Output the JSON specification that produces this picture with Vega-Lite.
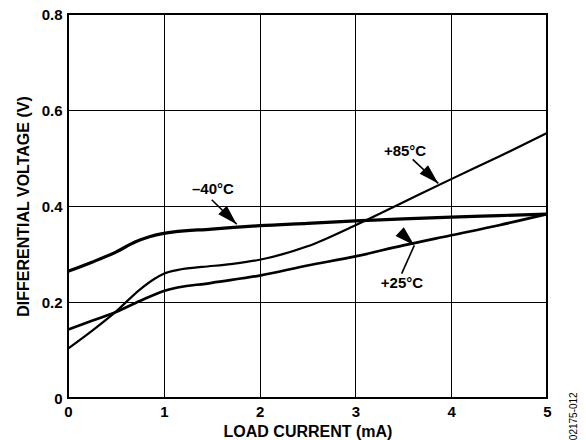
{
  "$schema": "https://vega.github.io/schema/vega-lite/v6.json",
  "width": 479,
  "height": 384,
  "autosize": "none",
  "padding": {"left": 68, "top": 14, "right": 39, "bottom": 42},
  "background": "white",
  "config": {
    "view": {"stroke": "black", "strokeWidth": 2},
    "font": "Liberation Sans",
    "axis": {
      "grid": true, "gridColor": "black", "gridOpacity": 1, "gridWidth": 1,
      "ticks": false, "domain": false, "labelFlush": false,
      "labelFont": "Liberation Sans", "labelFontWeight": "bold", "labelFontSize": 15, "labelColor": "black",
      "titleFont": "Liberation Sans", "titleFontWeight": "bold", "titleFontSize": 16, "titleColor": "black",
      "labelOverlap": false
    }
  },
  "datasets": {
    "curves": [
      {"series": "-40", "current": 0, "voltage": 0.264},
      {"series": "-40", "current": 0.25, "voltage": 0.283},
      {"series": "-40", "current": 0.5, "voltage": 0.304},
      {"series": "-40", "current": 0.7, "voltage": 0.325},
      {"series": "-40", "current": 0.85, "voltage": 0.336},
      {"series": "-40", "current": 1, "voltage": 0.343},
      {"series": "-40", "current": 1.5, "voltage": 0.352},
      {"series": "-40", "current": 2, "voltage": 0.359},
      {"series": "-40", "current": 2.5, "voltage": 0.364},
      {"series": "-40", "current": 3, "voltage": 0.369},
      {"series": "-40", "current": 3.5, "voltage": 0.373},
      {"series": "-40", "current": 4, "voltage": 0.377},
      {"series": "-40", "current": 4.5, "voltage": 0.380},
      {"series": "-40", "current": 5, "voltage": 0.383},
      {"series": "+25", "current": 0, "voltage": 0.1425},
      {"series": "+25", "current": 0.25, "voltage": 0.161},
      {"series": "+25", "current": 0.5, "voltage": 0.179},
      {"series": "+25", "current": 0.75, "voltage": 0.202},
      {"series": "+25", "current": 1, "voltage": 0.223},
      {"series": "+25", "current": 1.5, "voltage": 0.240},
      {"series": "+25", "current": 2, "voltage": 0.255},
      {"series": "+25", "current": 2.5, "voltage": 0.276},
      {"series": "+25", "current": 3, "voltage": 0.295},
      {"series": "+25", "current": 3.5, "voltage": 0.318},
      {"series": "+25", "current": 4, "voltage": 0.339},
      {"series": "+25", "current": 4.5, "voltage": 0.360},
      {"series": "+25", "current": 5, "voltage": 0.383},
      {"series": "+85", "current": 0, "voltage": 0.103},
      {"series": "+85", "current": 0.25, "voltage": 0.140},
      {"series": "+85", "current": 0.5, "voltage": 0.180},
      {"series": "+85", "current": 0.75, "voltage": 0.226},
      {"series": "+85", "current": 0.9, "voltage": 0.248},
      {"series": "+85", "current": 1.0, "voltage": 0.259},
      {"series": "+85", "current": 1.15, "voltage": 0.267},
      {"series": "+85", "current": 1.4, "voltage": 0.273},
      {"series": "+85", "current": 1.7, "voltage": 0.279},
      {"series": "+85", "current": 2, "voltage": 0.288},
      {"series": "+85", "current": 2.5, "voltage": 0.316},
      {"series": "+85", "current": 3, "voltage": 0.360},
      {"series": "+85", "current": 3.5, "voltage": 0.408},
      {"series": "+85", "current": 4, "voltage": 0.456},
      {"series": "+85", "current": 4.5, "voltage": 0.503},
      {"series": "+85", "current": 5, "voltage": 0.552}
    ],
    "notes": [
      {"label": "–40°C", "tx": 1.513, "ty": 0.435, "ax": 1.50, "ay": 0.413, "bx": 1.761, "by": 0.362},
      {"label": "+85°C", "tx": 3.518, "ty": 0.515, "ax": 3.598, "ay": 0.497, "bx": 3.865, "by": 0.447},
      {"label": "+25°C", "tx": 3.486, "ty": 0.239, "ax": 3.483, "ay": 0.259, "bx": 3.615, "by": 0.318}
    ],
    "code": [
      {"text": "02175-012", "x": 5.277, "y": -0.038}
    ]
  },
  "layer": [
    {
      "data": {"name": "curves"},
      "mark": {"type": "line", "interpolate": "monotone", "color": "black"},
      "encoding": {
        "x": {
          "field": "current", "type": "quantitative",
          "scale": {"domain": [0, 5], "nice": false},
          "axis": {"values": [0, 1, 2, 3, 4, 5], "title": "LOAD CURRENT (mA)", "labelPadding": 6, "titlePadding": 4}
        },
        "y": {
          "field": "voltage", "type": "quantitative",
          "scale": {"domain": [0, 0.8], "nice": false, "zero": false},
          "axis": {"values": [0, 0.2, 0.4, 0.6, 0.8], "title": "DIFFERENTIAL VOLTAGE (V)",
                   "labelExpr": "datum.value == 0 ? '0' : format(datum.value, '.1f')",
                   "labelPadding": 6, "titlePadding": 10}
        },
        "detail": {"field": "series", "type": "nominal"},
        "strokeWidth": {
          "field": "series", "type": "nominal",
          "scale": {"domain": ["-40", "+25", "+85"], "range": [3.2, 2.2, 1.3]},
          "legend": null
        }
      }
    },
    {
      "data": {"name": "notes"},
      "mark": {"type": "rule", "color": "black", "strokeWidth": 1.6},
      "encoding": {
        "x": {"field": "ax", "type": "quantitative",
          "axis": {"values": [0, 1, 2, 3, 4, 5], "title": "LOAD CURRENT (mA)", "labelPadding": 6, "titlePadding": 4}},
        "y": {"field": "ay", "type": "quantitative",
          "axis": {"values": [0, 0.2, 0.4, 0.6, 0.8], "title": "DIFFERENTIAL VOLTAGE (V)",
                   "labelExpr": "datum.value == 0 ? '0' : format(datum.value, '.1f')",
                   "labelPadding": 6, "titlePadding": 10}},
        "x2": {"field": "bx"},
        "y2": {"field": "by"}
      }
    },
    {
      "data": {"name": "notes"},
      "mark": {"type": "point", "shape": "M0,0L-0.3,1L0.3,1Z", "filled": true, "color": "black", "opacity": 1, "size": 1600, "strokeWidth": 0},
      "encoding": {
        "x": {"field": "bx", "type": "quantitative",
          "axis": {"values": [0, 1, 2, 3, 4, 5], "title": "LOAD CURRENT (mA)", "labelPadding": 6, "titlePadding": 4}},
        "y": {"field": "by", "type": "quantitative",
          "axis": {"values": [0, 0.2, 0.4, 0.6, 0.8], "title": "DIFFERENTIAL VOLTAGE (V)",
                   "labelExpr": "datum.value == 0 ? '0' : format(datum.value, '.1f')",
                   "labelPadding": 6, "titlePadding": 10}},
        "angle": {
          "field": "label", "type": "nominal",
          "scale": {"domain": ["–40°C", "+85°C", "+25°C"], "range": [135, 133, 24]}
        }
      }
    },
    {
      "data": {"name": "notes"},
      "mark": {"type": "text", "font": "Liberation Sans", "fontWeight": "bold", "fontSize": 15, "color": "black", "align": "center", "baseline": "middle"},
      "encoding": {
        "x": {"field": "tx", "type": "quantitative",
          "axis": {"values": [0, 1, 2, 3, 4, 5], "title": "LOAD CURRENT (mA)", "labelPadding": 6, "titlePadding": 4}},
        "y": {"field": "ty", "type": "quantitative",
          "axis": {"values": [0, 0.2, 0.4, 0.6, 0.8], "title": "DIFFERENTIAL VOLTAGE (V)",
                   "labelExpr": "datum.value == 0 ? '0' : format(datum.value, '.1f')",
                   "labelPadding": 6, "titlePadding": 10}},
        "text": {"field": "label"}
      }
    },
    {
      "data": {"name": "code"},
      "mark": {"type": "text", "font": "Liberation Sans", "fontSize": 10, "color": "black", "align": "center", "baseline": "middle", "angle": 270},
      "encoding": {
        "x": {"field": "x", "type": "quantitative",
          "axis": {"values": [0, 1, 2, 3, 4, 5], "title": "LOAD CURRENT (mA)", "labelPadding": 6, "titlePadding": 4}},
        "y": {"field": "y", "type": "quantitative",
          "axis": {"values": [0, 0.2, 0.4, 0.6, 0.8], "title": "DIFFERENTIAL VOLTAGE (V)",
                   "labelExpr": "datum.value == 0 ? '0' : format(datum.value, '.1f')",
                   "labelPadding": 6, "titlePadding": 10}},
        "text": {"field": "text"}
      }
    }
  ]
}
